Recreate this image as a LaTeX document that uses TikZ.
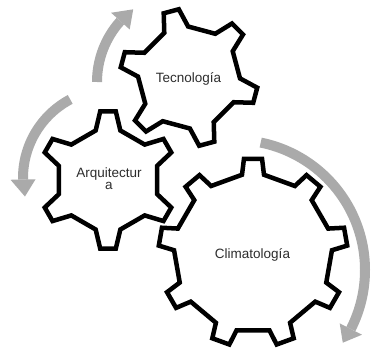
\documentclass[tikz,border=0pt]{standalone}
\usepackage{fontspec}
\setmainfont{Liberation Sans}
\definecolor{arrowgray}{RGB}{170,170,170}
\definecolor{txtgray}{RGB}{45,45,45}
\tikzset{
  gearline/.style={draw=black, fill=white, line width=4.5pt},
  arrowband/.style={draw=arrowgray, line width=10pt, line cap=butt},
  lbl/.style={text=txtgray, font=\fontsize{13.5}{12}\selectfont, inner sep=0pt}
}
% cx cy n phi0 Ro Rr alpha_out alpha_root
\newcommand\mygear[8]{%
  \pgfmathsetmacro\gstep{360/#3}%
  \pgfmathtruncatemacro\glast{#3-1}%
  \draw[gearline, shift={(#1,#2)}] ({#4-#8}:#6)
    \foreach \k in {0,...,\glast} {
      -- ({#4+\k*\gstep-#7}:#5) -- ({#4+\k*\gstep+#7}:#5) -- ({#4+\k*\gstep+#8}:#6)
      -- ({#4+(\k+1)*\gstep-#8}:#6)
    } -- cycle;
}
% cx cy r tail base tip
\newcommand\myarrow[6]{%
  \draw[arrowband, shift={(#1,#2)}] ({#4}:#3) arc[start angle=#4, end angle=#5, radius=#3];
  \fill[arrowgray, shift={(#1,#2)}] ({#5}:{#3+12.5}) -- ({#6}:#3) -- ({#5}:{#3-12.5}) -- cycle;
}
\begin{document}
\begin{tikzpicture}[x=1pt,y=1pt]
\useasboundingbox (0,0) rectangle (371,356);
\fill[white] (0,0) rectangle (371,356);
\coordinate (ctec) at (189,278.5);
\coordinate (carq) at (108,176);
\coordinate (ccli) at (253,103);
% arrows
\myarrow{188}{274}{91}{180}{138}{127}
\myarrow{112}{178}{89}{118}{181}{192}
\myarrow{235}{86}{130}{78.6}{-27}{-34}
% gears
\mygear{253}{103}{9}{90}{94.5}{79}{5.5}{8}
\mygear{108}{176}{6}{90}{69}{51}{6.5}{14}
\mygear{189}{278.5}{6}{105}{69}{51}{6.5}{14}
% labels
\node[lbl, anchor=base] (tec) at (188.5,273) {Tecnología};
\node[lbl, anchor=base] (cli) at (252.5,98) {Climatología};
\node[lbl, align=center] (arq) at (109,177) {Arquitectur\\a};
\end{tikzpicture}
\end{document}
